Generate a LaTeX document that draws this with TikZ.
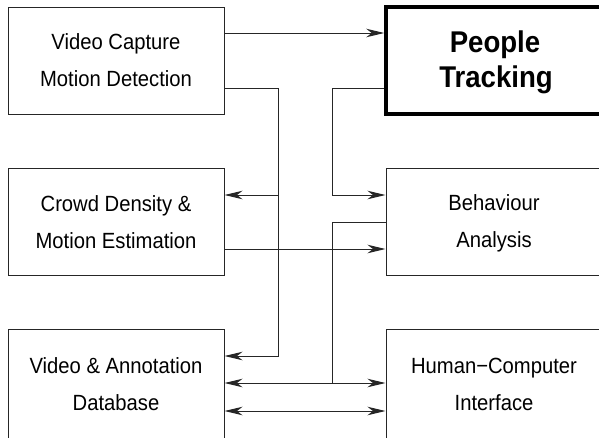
\documentclass[tikz,border=0pt]{standalone}
\usepackage{fontspec}
\setmainfont{Liberation Sans}[FakeStretch=0.92]
\usetikzlibrary{arrows.meta}
\begin{document}
\begin{tikzpicture}[x=1pt,y=-1pt,
  box/.style={draw=black!85, line width=1pt, minimum width=216pt, inner sep=0pt},
  tbox/.style={box, draw=black, line width=3.5pt},
  lbl/.style={anchor=base, inner sep=0pt, font=\fontsize{22}{24}\selectfont},
  blbl/.style={anchor=base, inner sep=0pt, font=\fontsize{30}{33}\selectfont\bfseries},
  conn/.style={draw=black!85, line width=1pt},
  arr/.style={conn, -{Stealth[length=18pt,width=8.5pt,inset=5.5pt]}},
  darr/.style={conn, {Stealth[length=18pt,width=8.5pt,inset=5.5pt]}-{Stealth[length=18pt,width=8.5pt,inset=5.5pt]}}]
\useasboundingbox (0,0) rectangle (599,437);
\clip (0,0) rectangle (599,437);
% boxes
\node[box, minimum height=107pt] (vc) at (116,60.5) {};
\node[box, minimum height=107pt] (cd) at (116,221.5) {};
\node[box, minimum height=112pt] (db) at (116,385) {};
\node[tbox, minimum height=107pt] (pt) at (494,60.5) {};
\node[box, minimum height=107pt] (ba) at (494,221.5) {};
\node[box, minimum height=112pt] (hc) at (494,385) {};
% texts
\node[lbl] (vc1) at (116,49.5) {Video Capture};
\node[lbl] (vc2) at (116,86) {Motion Detection};
\node[lbl] (cd1) at (116,211.5) {Crowd Density \&};
\node[lbl] (cd2) at (116,248.5) {Motion Estimation};
\node[lbl] (db1) at (116,373) {Video \& Annotation};
\node[lbl] (db2) at (116,410.5) {Database};
\node[blbl] (pt1) at (495,52) {People};
\node[blbl] (pt2) at (496,87) {Tracking};
\node[lbl] (ba1) at (494,210.5) {Behaviour};
\node[lbl] (ba2) at (494,247.5) {Analysis};
\node[lbl] (hc1) at (494,373) {Human−Computer};
\node[lbl] (hc2) at (494,410.5) {Interface};
% helper coordinates
\coordinate (y33) at (0,33);
\coordinate (y249) at (0,249);
\coordinate (y411) at (0,411);
\coordinate (c1) at (278,88);
\coordinate (c2) at (278,356);
\coordinate (c3) at (278,195);
\coordinate (d1) at (332,88);
\coordinate (d2) at (332,195);
\coordinate (e1) at (332,222);
\coordinate (e2) at (332,383);
% connectors
\draw[arr] (vc.east |- y33) -- (pt.west |- y33);
\draw[arr] (vc.east |- c1) -- (c1) -- (c2) -- (db.east |- c2);
\draw[arr] (c3) -- (cd.east |- c3);
\draw[arr] (pt.west |- d1) -- (d1) -- (d2) -- (ba.west |- d2);
\draw[arr] (cd.east |- y249) -- (ba.west |- y249);
\draw[conn] (ba.west |- e1) -- (e1) -- (e2);
\draw[darr] (db.east |- e2) -- (hc.west |- e2);
\draw[darr] (db.east |- y411) -- (hc.west |- y411);
\end{tikzpicture}
\end{document}
